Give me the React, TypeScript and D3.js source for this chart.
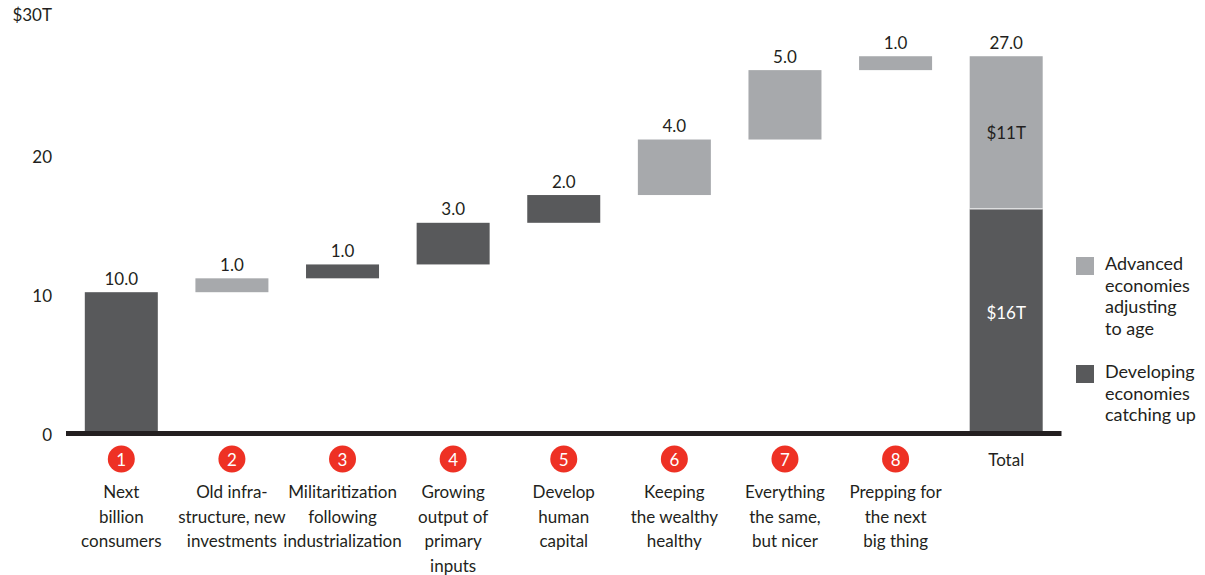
import React from "react";
import * as d3 from "d3";

const categories = ["1", "2", "3", "4", "5", "6", "7", "8", "Total"];
const categoryLabels: string[][] = [
  ["Next", "billion", "consumers"],
  ["Old infra-", "structure, new", "investments"],
  ["Militaritization", "following", "industrialization"],
  ["Growing", "output of", "primary", "inputs"],
  ["Develop", "human", "capital"],
  ["Keeping", "the wealthy", "healthy"],
  ["Everything", "the same,", "but nicer"],
  ["Prepping for", "the next", "big thing"],
  [],
];
const stepValues = [10, 1, 1, 3, 2, 4, 5, 1];
const stepGroup = ["dev", "adv", "dev", "dev", "dev", "adv", "adv", "adv"];
const totalDeveloping = 16;
const totalAdvanced = 11;
const totalLabel = "27.0";
const totalSegmentLabels = ["$16T", "$11T"];
const yTicks = [0, 10, 20, 30];
const yTickLabels = ["0", "10", "20", "$30T"];
const legendItems = [
  { key: "adv", lines: ["Advanced", "economies", "adjusting", "to age"] },
  { key: "dev", lines: ["Developing", "economies", "catching up"] },
];

const COLORS: Record<string, string> = { dev: "#58595b", adv: "#a7a9ac" };
const TEXT = "#231f20";
const RED = "#ee3124";
const FONT = "Lato, 'Noto Sans', sans-serif";

export default function App() {
  const width = 1205;
  const height = 575;
  const x = d3
    .scaleBand<string>()
    .domain(categories)
    .range([66, 1061.5])
    .paddingInner(0.34)
    .paddingOuter(0.17);
  const y = d3.scaleLinear().domain([0, 30]).range([431, 14.6]);

  let running = 0;
  const steps = stepValues.map((v, i) => {
    const start = running;
    running += v;
    return { cat: categories[i], start, end: running, v, group: stepGroup[i] };
  });

  const bw = x.bandwidth();
  const fs = 17;

  return (
    <svg width={width} height={height} style={{ position: "absolute", left: 0, top: 0 }} fontFamily={FONT}>
      {/* y tick labels */}
      {yTicks.map((t, i) => (
        <text
          key={t}
          x={52}
          y={y(t) + (i === 3 ? 0 : 3.5)}
          textAnchor="end"
          dominantBaseline="central"
          fontSize={fs}
          fill={TEXT}
        >
          {yTickLabels[i]}
        </text>
      ))}

      {/* step bars */}
      {steps.map((s) => {
        const x0 = x(s.cat)!;
        return (
          <g key={s.cat}>
            <rect x={x0} y={y(s.end)} width={bw} height={y(s.start) - y(s.end)} fill={COLORS[s.group]} />
            <text
              x={x0 + bw / 2}
              y={y(s.end) - 14}
              textAnchor="middle"
              dominantBaseline="central"
              fontSize={fs}
              fill={TEXT}
            >
              {s.v.toFixed(1)}
            </text>
          </g>
        );
      })}

      {/* total bar */}
      {(() => {
        const x0 = x("Total")!;
        const top = totalDeveloping + totalAdvanced;
        return (
          <g>
            <rect x={x0} y={y(totalDeveloping)} width={bw} height={y(0) - y(totalDeveloping)} fill={COLORS.dev} />
            <rect x={x0} y={y(top)} width={bw} height={y(totalDeveloping) - y(top)} fill={COLORS.adv} />
            <line x1={x0} x2={x0 + bw} y1={y(totalDeveloping)} y2={y(totalDeveloping)} stroke="#fff" strokeWidth={1} />
            <text x={x0 + bw / 2} y={y(top) - 14} textAnchor="middle" dominantBaseline="central" fontSize={fs} fill={TEXT}>
              {totalLabel}
            </text>
            <text
              x={x0 + bw / 2}
              y={y(totalDeveloping / 2) - 7}
              textAnchor="middle"
              dominantBaseline="central"
              fontSize={fs}
              fill="#fff"
            >
              {totalSegmentLabels[0]}
            </text>
            <text
              x={x0 + bw / 2}
              y={y(totalDeveloping + totalAdvanced / 2)}
              textAnchor="middle"
              dominantBaseline="central"
              fontSize={fs}
              fill={TEXT}
            >
              {totalSegmentLabels[1]}
            </text>
          </g>
        );
      })()}

      {/* baseline */}
      <rect x={66} y={y(0)} width={1061.5 - 66} height={5} fill={TEXT} />

      {/* category markers and labels */}
      {categories.map((c, i) => {
        const cx = x(c)! + bw / 2;
        return (
          <g key={"cat" + c}>
            {c === "Total" ? (
              <text x={cx} y={459} textAnchor="middle" dominantBaseline="central" fontSize={fs} fill={TEXT}>
                Total
              </text>
            ) : (
              <g>
                <circle cx={cx} cy={459} r={13.5} fill={RED} />
                <text x={cx} y={459} textAnchor="middle" dominantBaseline="central" fontSize={fs} fill="#fff">
                  {c}
                </text>
              </g>
            )}
            {categoryLabels[i].map((line, j) => (
              <text
                key={j}
                x={cx}
                y={491.7 + j * 24.5}
                textAnchor="middle"
                dominantBaseline="central"
                fontSize={fs}
                fill={TEXT}
              >
                {line}
              </text>
            ))}
          </g>
        );
      })}

      {/* legend */}
      {legendItems.map((item, i) => {
        const top = i === 0 ? 257 : 365;
        return (
          <g key={item.key}>
            <rect x={1076} y={top} width={18} height={18} fill={COLORS[item.key]} />
            {item.lines.map((line, j) => (
              <text
                key={j}
                x={1105}
                y={top + 6 + j * 21.5}
                dominantBaseline="central"
                fontSize={18}
                fill={TEXT}
              >
                {line}
              </text>
            ))}
          </g>
        );
      })}
    </svg>
  );
}
